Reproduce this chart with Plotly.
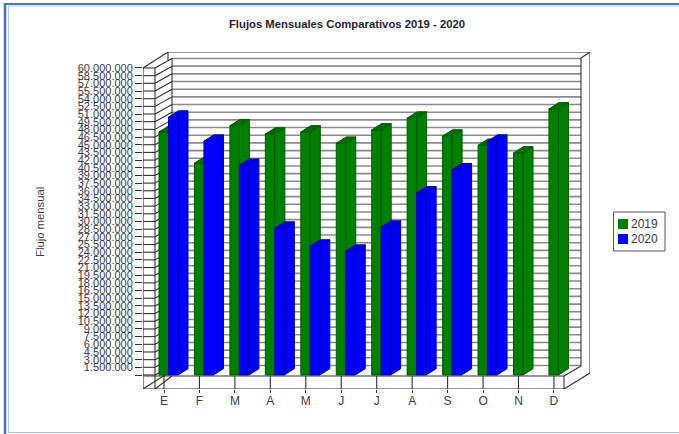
import plotly.graph_objects as go

meses = ["E", "F", "M", "A", "M", "J", "J", "A", "S", "O", "N", "D"]
flujo_2019 = [47.5e6, 41.4e6, 48.7e6, 47.1e6, 47.5e6, 45.3e6, 47.9e6, 50.2e6, 46.7e6, 44.9e6, 43.4e6, 52.0e6]
flujo_2020 = [50.4e6, 45.7e6, 41.0e6, 28.7e6, 25.2e6, 24.2e6, 28.9e6, 35.6e6, 40.1e6, 45.7e6, None, None]
paso = 1_500_000
marcas = [paso * i for i in range(41)]
etiquetas = ["" if v == 0 else f"{v:,}".replace(",", ".") for v in marcas]

# Figure geometry (pixels)
L, R, T, B = 143, 590, 52, 389
X0, PX_CAT = 164.0, 35.45      # pixel of first category, pixels per category
Y0, PX_M = 375.0, 5.117        # pixel of value 0, pixels per million
fx = lambda p: (p - X0) / PX_CAT
fy = lambda p: (Y0 - p) / PX_M * 1e6
px = lambda p: (p - L) / (R - L)
py = lambda p: (B - p) / (B - T)
xr = [fx(L), fx(R)]
yr = [fy(B), fy(T)]

BAR_W = 9.5 / PX_CAT
DX, DY = 10 / PX_CAT, 6.3 / PX_M * 1e6
GREEN, GREEN_E, BLUE, BLUE_E = "#008000", "#005a00", "#0000ff", "#0000a8"
DARK, GRID = "#333333", "#8c8c8c"

shapes = []
def seg(x0, y0, x1, y1, color=DARK, width=1.1):
    shapes.append(dict(type="line", xref="x", yref="y", layer="below",
                       x0=fx(x0), y0=fy(y0), x1=fx(x1), y1=fy(y1),
                       line=dict(color=color, width=width)))

# grid lines through walls
for v in marcas:
    yf = Y0 - v / 1e6 * PX_M
    seg(172, yf - 9.5, 581, yf - 9.5, GRID, 1.6)
    seg(143, yf, 155, yf)
    seg(155, yf, 172, yf - 9.5)

# box frame
for c in [
    (143, 68, 143, B), (155, 68, 155, B), (168, 52, 168, 60), (172, 58, 172, 366),
    (143, 68, 168, 52), (168, 52, 590, 52), (581, 58, 590, 52),
    (581, 58, 581, 366), (590, 52, 590, 373), (143, 376, 564, 376), (143, B, 564, B),
    (564, 376, 564, B), (564, 376, 581, 366), (564, B, 590, 373), (143, B, 168, 373), (155, B, 172, 376),
]:
    seg(*c)
for i in range(len(meses)):
    shapes.append(dict(type="line", xref="x", yref="y", layer="below", x0=i, x1=i,
                       y0=fy(376), y1=fy(B), line=dict(color=DARK, width=1.1)))

# page frame
def pline(x0, y0, x1, y1, color, width):
    shapes.append(dict(type="line", xref="paper", yref="paper", x0=px(x0), y0=py(y0), x1=px(x1), y1=py(y1),
                       line=dict(color=color, width=width)))
pline(5, 4, 679, 4, "#4472c4", 2)
pline(5, 3, 5, 434, "#4472c4", 2.5)
pline(8, 6, 679, 6, "#b4c7e7", 1)
pline(8.5, 6, 8.5, 432, "#b4c7e7", 1)
pline(8, 432.5, 679, 432.5, "#a9c0e4", 1.2)

# hand-placed legend
shapes.append(dict(type="rect", xref="paper", yref="paper", x0=px(613.5), x1=px(665), y0=py(251), y1=py(212),
                   line=dict(color="#555555", width=1), fillcolor="white"))
anns = []
for name, col, yc in [("2019", GREEN, 224), ("2020", BLUE, 239)]:
    shapes.append(dict(type="rect", xref="paper", yref="paper", x0=px(618), x1=px(628), y0=py(yc + 5), y1=py(yc - 5),
                       line=dict(color=col, width=0), fillcolor=col))
    anns.append(dict(text=name, xref="paper", yref="paper", x=px(630), y=py(yc), xanchor="left", yanchor="middle",
                     showarrow=False, xshift=-1, font=dict(family="Liberation Sans", size=12, color="#3c3c4a")))
anns.append(dict(text="Flujo mensual", textangle=-90, xref="paper", yref="paper", x=px(40), y=py(222),
                 xanchor="center", yanchor="middle", showarrow=False,
                 font=dict(family="Liberation Sans", size=11.3, color="#3c3c4a")))

def caras(valores, offset):
    sx, sy, tx, ty = [], [], [], []
    for i, v in enumerate(valores):
        if v is None:
            continue
        a, b = i + offset, i + offset + BAR_W
        sx += [b, b + DX, b + DX, b, b, None]
        sy += [0, DY, v + DY, v, 0, None]
        tx += [a, b, b + DX, a + DX, a, None]
        ty += [v, v, v + DY, v + DY, v, None]
    return sx, sy, tx, ty

fig = go.Figure()
def serie(nombre, valores, offset, col, edge, top, xa, ya):
    fig.add_trace(go.Bar(x=list(range(len(valores))), y=valores, name=nombre, width=BAR_W, offset=offset,
                         marker=dict(color=col, line=dict(color=edge, width=1)), xaxis=xa, yaxis=ya, showlegend=False))
    sx, sy, tx, ty = caras(valores, offset)
    for xs, ys, fc in [(sx, sy, col), (tx, ty, top)]:
        fig.add_trace(go.Scatter(x=xs, y=ys, mode="lines", fill="toself", fillcolor=fc, xaxis=xa, yaxis=ya,
                                 line=dict(color=edge, width=1), hoverinfo="skip", showlegend=False))

serie("2019", flujo_2019, -5 / PX_CAT, GREEN, GREEN_E, "#006e00", "x", "y")
serie("2020", flujo_2020, 4.5 / PX_CAT, BLUE, BLUE_E, "#0000e6", "x2", "y2")

fig.update_layout(
    width=679, height=434, autosize=False,
    margin=dict(l=L, r=679 - R, t=T, b=434 - B, pad=0),
    paper_bgcolor="white", plot_bgcolor="white", barmode="overlay",
    font=dict(family="Liberation Sans", size=11, color="#3c3c4a"),
    title=dict(text="<b>Flujos Mensuales Comparativos 2019 - 2020</b>", x=px(347), xref="paper", xanchor="center",
               y=1 - 24.5 / 434, yanchor="middle", font=dict(family="Liberation Sans", size=11.3, color="#262633")),
    xaxis=dict(range=xr, tickmode="array", tickvals=list(range(len(meses))), ticktext=meses, ticks="outside", ticklen=3,
               ticklabelstandoff=-2, tickcolor=DARK, showgrid=False, zeroline=False, showline=False, tickfont=dict(size=12)),
    yaxis=dict(range=yr, tickmode="array", tickvals=marcas, ticktext=etiquetas, ticks="outside", ticklen=7,
               tickcolor=DARK, showgrid=False, zeroline=False, showline=False, tickfont=dict(size=11)),
    xaxis2=dict(range=xr, overlaying="x", visible=False, anchor="y2"),
    yaxis2=dict(range=yr, overlaying="y", visible=False, anchor="x2"),
    shapes=shapes, annotations=anns,
)
fig.write_html("out.html", config={"displayModeBar": False}, post_script="document.body.style.margin='0';document.body.style.overflow='hidden';")
